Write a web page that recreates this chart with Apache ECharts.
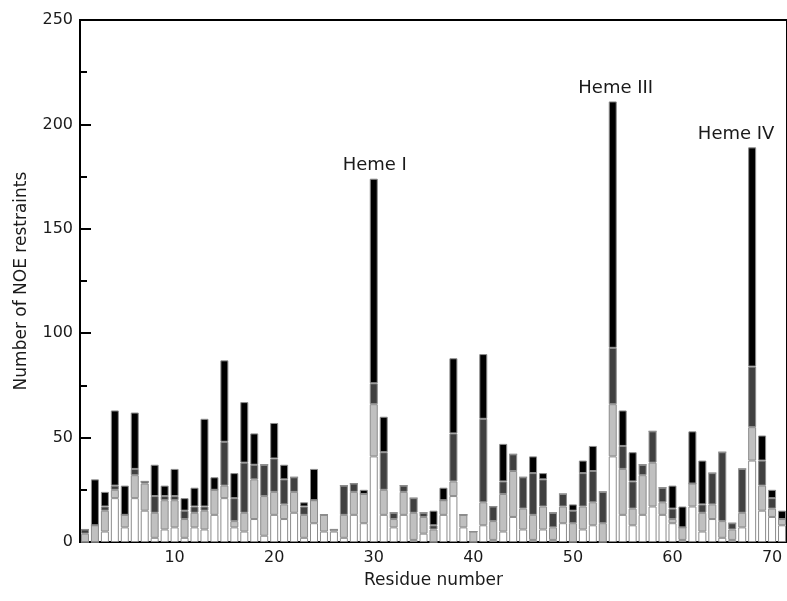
<!DOCTYPE html>
<html>
<head>
<meta charset="utf-8">
<script src="https://cdn.jsdelivr.net/npm/echarts@6/dist/echarts.min.js"></script>
<style>
  html, body { margin: 0; padding: 0; background: #fff; }
  #chart { width: 787px; height: 601px; }
</style>
</head>
<body>
<div id="chart"></div>
<script>
// NOE restraint counts per residue, split by restraint class (stacked bottom to top)
const residueCount = 71;
const tickLabels = [10, 20, 30, 40, 50, 60, 70];

// intraresidue
const intraRes = [0, 0, 5, 21, 7, 21, 15, 2, 6, 7, 2, 7, 6, 13, 21, 7, 5, 11, 3, 13,
  11, 14, 2, 9, 5, 5, 2, 13, 9, 41, 13, 7, 13, 1, 4, 0, 13, 22, 7, 0,
  8, 1, 5, 12, 6, 1, 6, 1, 9, 0, 6, 8, 0, 41, 13, 8, 13, 17, 13, 9,
  1, 17, 5, 11, 2, 1, 7, 39, 15, 12, 8];
// sequential
const sequential = [4, 8, 10, 4, 6, 11, 13, 12, 14, 13, 9, 7, 9, 12, 6, 3, 9, 19, 19, 11,
  7, 10, 11, 11, 8, 1, 11, 11, 14, 25, 12, 4, 11, 13, 8, 6, 7, 7, 6, 5,
  11, 9, 18, 22, 10, 12, 11, 6, 8, 9, 11, 11, 9, 25, 22, 8, 19, 21, 6, 2,
  6, 11, 9, 7, 8, 5, 7, 16, 12, 4, 3];
// medium range
const mediumRange = [2, 0, 2, 2, 0, 3, 1, 8, 2, 2, 4, 3, 2, 0, 21, 11, 24, 7, 15, 16,
  12, 7, 4, 0, 0, 0, 14, 4, 0, 10, 18, 3, 3, 7, 2, 2, 0, 23, 0, 0,
  40, 7, 6, 8, 15, 20, 13, 7, 6, 6, 16, 15, 15, 27, 11, 13, 5, 15, 7, 5,
  0, 0, 4, 15, 33, 3, 21, 29, 12, 5, 0];
// long range
const longRange = [0, 22, 7, 36, 14, 27, 0, 15, 5, 13, 6, 9, 42, 6, 39, 12, 29, 15, 0, 17,
  7, 0, 2, 15, 0, 0, 0, 0, 2, 98, 17, 0, 0, 0, 0, 7, 6, 36, 0, 0,
  31, 0, 18, 0, 0, 8, 3, 0, 0, 3, 6, 12, 0, 118, 17, 14, 0, 0, 0, 11,
  10, 25, 21, 0, 0, 0, 0, 105, 12, 4, 4];

// heme attachment annotations: residue -> [text, horizontal offset]
const hemeLabels = { 30: ['Heme I', 1], 54: ['Heme III', 3], 68: ['Heme IV', -16] };

const residues = [];
for (let i = 1; i <= residueCount; i++) residues.push(String(i));

const font = 'DejaVu Sans, Verdana, sans-serif';
const textColor = '#1a1a1a';
const edge = '#8c8c8c';

function layer(name, values, fill) {
  return {
    name: name,
    type: 'bar',
    stack: 'noe',
    barWidth: 8,
    itemStyle: { color: fill, borderColor: edge, borderWidth: 1 },
    emphasis: { disabled: true },
    data: values
  };
}

const topLayer = layer('long', longRange.map((v, i) => {
  const h = hemeLabels[i + 1];
  if (!h) return v;
  return {
    value: v,
    label: {
      show: true,
      position: 'top',
      distance: 4,
      offset: [h[1], 0],
      formatter: h[0],
      fontFamily: font,
      fontSize: 18,
      color: textColor
    }
  };
}), '#000000');

const chart = echarts.init(document.getElementById('chart'), null, { renderer: 'canvas' });
chart.setOption({
  animation: false,
  backgroundColor: '#ffffff',
  grid: {
    left: 80, top: 20, width: 708, height: 522,
    show: true, borderColor: '#000', borderWidth: 2, backgroundColor: 'transparent'
  },
  xAxis: {
    type: 'category',
    data: residues,
    boundaryGap: true,
    name: 'Residue number',
    nameLocation: 'middle',
    nameGap: 30,
    nameTextStyle: { fontFamily: font, fontSize: 17, color: textColor },
    axisLine: { lineStyle: { color: '#000', width: 2 } },
    axisTick: { show: false },
    axisLabel: {
      interval: (idx, val) => tickLabels.indexOf(Number(val)) >= 0,
      margin: 8,
      fontFamily: font, fontSize: 16, color: textColor
    },
    splitLine: { show: false }
  },
  yAxis: {
    type: 'value',
    min: 0, max: 250, interval: 50,
    name: 'Number of NOE restraints',
    nameLocation: 'middle',
    nameGap: 50,
    nameTextStyle: { fontFamily: font, fontSize: 17, color: textColor },
    axisLine: { show: true, lineStyle: { color: '#000', width: 2 } },
    axisTick: { show: true, inside: true, length: 11, lineStyle: { color: '#000', width: 2 } },
    minorTick: { show: true, splitNumber: 2, length: 7, lineStyle: { color: '#000', width: 2 } },
    axisLabel: { margin: 7, fontFamily: font, fontSize: 16, color: textColor },
    splitLine: { show: false }
  },
  series: [
    layer('intra', intraRes, '#ffffff'),
    layer('sequential', sequential, '#c0c0c0'),
    layer('medium', mediumRange, '#404040'),
    topLayer
  ]
});
</script>
</body>
</html>
